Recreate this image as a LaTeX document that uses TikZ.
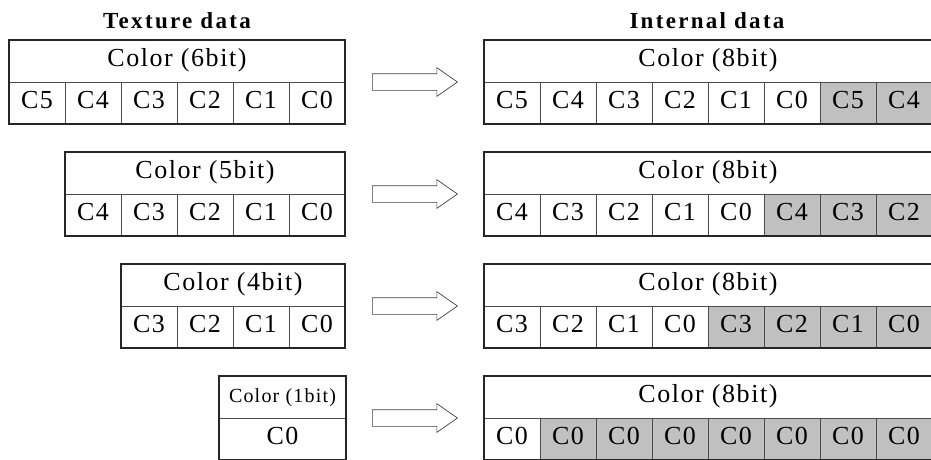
\documentclass[tikz,border=0pt]{standalone}
\usepackage{fontspec}
\setmainfont{Liberation Serif}[LetterSpace=6]
\newfontfamily\titlefont{Liberation Serif}[LetterSpace=10]
\usetikzlibrary{positioning,shapes.arrows}
\definecolor{bitgray}{HTML}{C0C0C0}

\begin{document}
\begin{tikzpicture}[x=1pt, y=-1pt,
  bitbox/.style={draw=black!70, line width=0.7pt, minimum width=56pt, minimum height=42pt,
    inner sep=0pt, outer sep=0pt, text height=17pt, text depth=7pt,
    font=\fontsize{26}{30}\selectfont, anchor=north west},
  hdbox/.style={bitbox, minimum width=#1},
  framebox/.style={draw=black!85, line width=1.4pt},
  titletext/.style={font=\titlefont\bfseries\fontsize{23}{26}\selectfont, anchor=base},
  convarrow/.style={single arrow, draw=black!75, line width=0.7pt, minimum height=85pt,
    inner xsep=0pt, inner ysep=8pt, single arrow head extend=6pt,
    single arrow tip angle=70, anchor=tail}
]
  \useasboundingbox (0,0) rectangle (931,459);

  \node[titletext] (texture) at (177,28) {Texture data};
  \node[titletext] (internal) at (707,28) {Internal data};

  % texture side
  \node[hdbox=336pt] (t6) at (9,40) {Color (6bit)};
  \foreach \b [count=\i] in {C5,C4,C3,C2,C1,C0}
    \node[bitbox] (t6b\i) at ({9+56*(\i-1)},82) {\b};
  \draw[framebox] (t6.north west) rectangle (t6b6.south east);

  \node[hdbox=280pt] (t5) at (65,152) {Color (5bit)};
  \foreach \b [count=\i] in {C4,C3,C2,C1,C0}
    \node[bitbox] (t5b\i) at ({65+56*(\i-1)},194) {\b};
  \draw[framebox] (t5.north west) rectangle (t5b5.south east);

  \node[hdbox=224pt] (t4) at (121,264) {Color (4bit)};
  \foreach \b [count=\i] in {C3,C2,C1,C0}
    \node[bitbox] (t4b\i) at ({121+56*(\i-1)},306) {\b};
  \draw[framebox] (t4.north west) rectangle (t4b4.south east);

  \node[hdbox=127pt, font=\fontsize{20}{24}\selectfont] (t1) at (219,376) {Color (1bit)};
  \node[hdbox=127pt] (t1b1) at (219,418) {C0};
  \draw[framebox] (t1.north west) rectangle (t1b1.south east);

  % conversion arrows
  \node[convarrow] (ar6) at (372,82) {};
  \node[convarrow] (ar5) at (372,194) {};
  \node[convarrow] (ar4) at (372,306) {};
  \node[convarrow] (ar1) at (372,418) {};

  % internal side
  \node[hdbox=448pt] (i6) at (484,40) {Color (8bit)};
  \foreach \b/\f [count=\i] in {C5/white,C4/white,C3/white,C2/white,C1/white,C0/white,C5/bitgray,C4/bitgray}
    \node[bitbox, fill=\f] (i6b\i) at ({484+56*(\i-1)},82) {\b};
  \draw[framebox] (i6.north west) rectangle (i6b8.south east);

  \node[hdbox=448pt] (i5) at (484,152) {Color (8bit)};
  \foreach \b/\f [count=\i] in {C4/white,C3/white,C2/white,C1/white,C0/white,C4/bitgray,C3/bitgray,C2/bitgray}
    \node[bitbox, fill=\f] (i5b\i) at ({484+56*(\i-1)},194) {\b};
  \draw[framebox] (i5.north west) rectangle (i5b8.south east);

  \node[hdbox=448pt] (i4) at (484,264) {Color (8bit)};
  \foreach \b/\f [count=\i] in {C3/white,C2/white,C1/white,C0/white,C3/bitgray,C2/bitgray,C1/bitgray,C0/bitgray}
    \node[bitbox, fill=\f] (i4b\i) at ({484+56*(\i-1)},306) {\b};
  \draw[framebox] (i4.north west) rectangle (i4b8.south east);

  \node[hdbox=448pt] (i1) at (484,376) {Color (8bit)};
  \foreach \b/\f [count=\i] in {C0/white,C0/bitgray,C0/bitgray,C0/bitgray,C0/bitgray,C0/bitgray,C0/bitgray,C0/bitgray}
    \node[bitbox, fill=\f] (i1b\i) at ({484+56*(\i-1)},418) {\b};
  \draw[framebox] (i1.north west) rectangle (i1b8.south east);
\end{tikzpicture}
\end{document}
